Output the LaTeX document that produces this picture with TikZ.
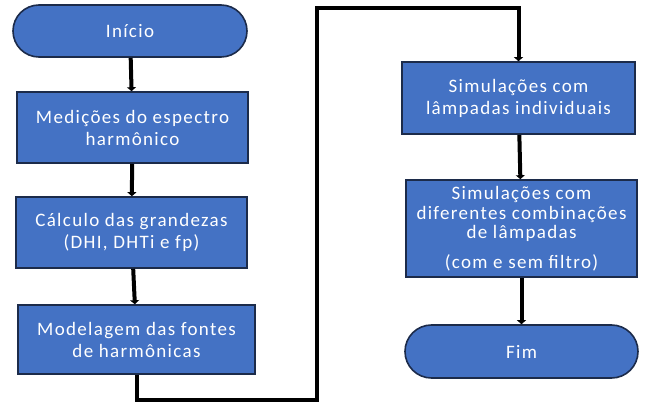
\documentclass[tikz,border=0pt]{standalone}
\usepackage{fontspec}
\setmainfont{Carlito}
\newfontfamily\flowfont[LetterSpace=7]{Carlito}
\usetikzlibrary{shapes.misc,arrows.meta}
\definecolor{boxblue}{HTML}{4472C4}
\definecolor{boxline}{HTML}{1C2B4A}

\begin{document}
\begin{tikzpicture}[x=1pt,y=-1pt]

      \useasboundingbox (0,0) rectangle (646,409);

      \begin{scope}[every node/.style={draw=boxline,line width=1.6pt,fill=boxblue,text=white,
          font=\flowfont\fontsize{19}{22}\selectfont,align=center,inner sep=0pt}]
        \node[rounded rectangle,minimum width=234pt,minimum height=52pt] (inicio) at (130,31) {Início};
        \node[minimum width=231pt,minimum height=71pt] (med) at (132.5,127.5) {Medições do espectro\\harmônico};
        \node[minimum width=231pt,minimum height=71pt] (calc) at (131.5,232.5) {Cálculo das grandezas\\(DHI, DHTi e fp)};
        \node[minimum width=237pt,minimum height=69pt] (mod) at (136.5,339.5) {Modelagem das fontes\\de harmônicas};
        \node[minimum width=233pt,minimum height=72pt] (simind) at (518.5,98) {Simulações com\\lâmpadas individuais};
        \node[font=\flowfont\fontsize{19}{19.5}\selectfont,minimum width=231pt,minimum height=97pt] (simcomb) at (521.5,228.5)
          {Simulações com\\diferentes combinações\\de lâmpadas\\[10pt](com e sem filtro)};
        \node[rounded rectangle,minimum width=233pt,minimum height=53pt] (fim) at (521.5,351.5) {Fim};
      \end{scope}

      \coordinate (low) at (317,400);
      \coordinate (high) at (317,8);

      \begin{scope}[every edge/.style={draw,line width=4pt,-{Triangle[length=4pt,width=9pt]}}]
        \path (inicio) edge (med);
        \path (med) edge (calc);
        \path (calc) edge (mod);
        \path (simind) edge (simcomb);
        \path (simcomb) edge (fim);
      \end{scope}

      \draw[line width=4pt,-{Triangle[length=4pt,width=9pt]}] (mod) |- (low) -- (high) -| (simind);

    \end{tikzpicture}
\end{document}
